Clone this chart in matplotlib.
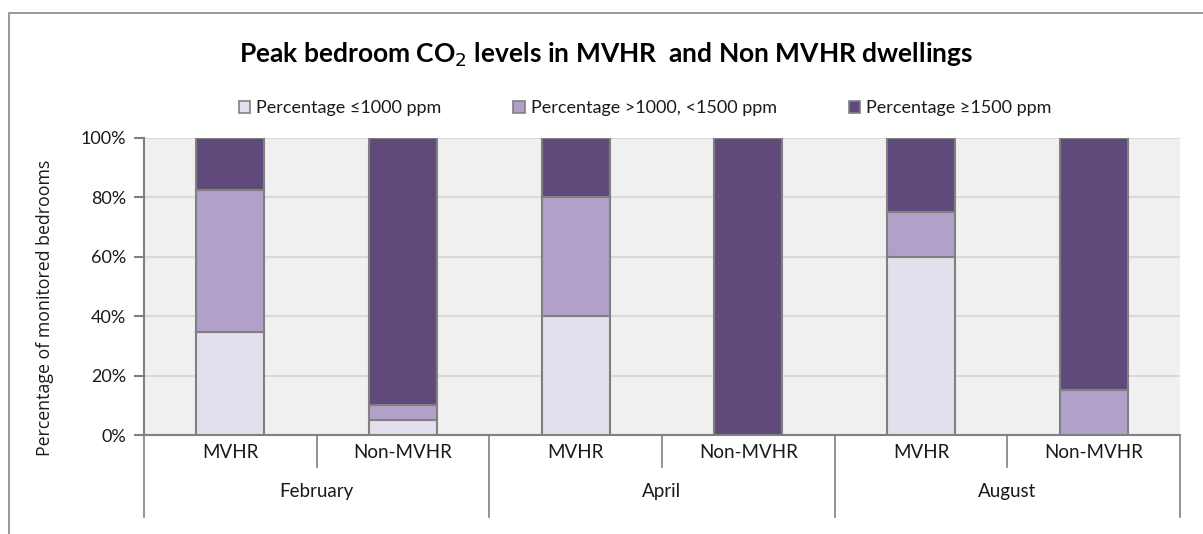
import matplotlib
matplotlib.use("Agg")
import matplotlib.pyplot as plt
from matplotlib.patches import Rectangle, Patch
from matplotlib.transforms import blended_transform_factory

# ---- data ----
months = ["February", "April", "August"]
groups = ["MVHR", "Non-MVHR"]
series_names = ["Percentage \u22641000 ppm", "Percentage >1000, <1500 ppm", "Percentage \u22651500 ppm"]
low = [34.8, 5, 40, 0, 60, 0]
mid = [47.8, 5, 40, 0, 15, 15]
high = [17.4, 90, 20, 100, 25, 85]
yticks = [0, 20, 40, 60, 80, 100]

colors = ["#E4DFEC", "#B1A0C7", "#604A7B"]
edge = "#808080"
FONT = ["Lato", "DejaVu Sans"]
TXT = "#1a1a1a"

W, H = 1203, 534
fig = plt.figure(figsize=(W / 100, H / 100), dpi=100)
fig.patch.set_facecolor("white")

# outer chart border
fig.patches.append(Rectangle((9 / W, -0.1), 1.2, 1 - 13 / H + 0.1, transform=fig.transFigure,
                             fill=False, edgecolor="#868686", linewidth=1.2))

left, right, top, bottom = 144, 1180, 138, 435
ax = fig.add_axes([left / W, 1 - bottom / H, (right - left) / W, (bottom - top) / H])
ax.set_facecolor("#F0F0F0")

n = len(low)
x = [i + 0.5 for i in range(n)]
bw = 0.395
bottoms2 = low
bottoms3 = [a + b for a, b in zip(low, mid)]
for vals, bots, c in [(low, [0] * n, colors[0]), (mid, bottoms2, colors[1]), (high, bottoms3, colors[2])]:
    ax.bar(x, vals, bw, bottom=bots, color=c, edgecolor=edge, linewidth=1.5, zorder=3)

ax.set_xlim(0, n)
ax.set_ylim(0, 100)
ax.set_yticks(yticks)
ax.set_yticklabels([f"{v}%" for v in yticks], family=FONT, fontsize=13, color=TXT)
ax.yaxis.grid(True, color="#D9D9D9", linewidth=1.5, zorder=0)
ax.set_xticks([])
for s in ["top", "right"]:
    ax.spines[s].set_visible(False)
for s in ["left", "bottom"]:
    ax.spines[s].set_color(edge)
    ax.spines[s].set_linewidth(1.5)
ax.tick_params(axis="y", length=7, color=edge, width=1.5, pad=6)

# categorical multi-level axis
tr = blended_transform_factory(ax.transData, ax.transAxes)
axh = (bottom - top)
inner_len = (467 - bottom) / axh
outer_len = (517 - bottom) / axh
for i in range(n + 1):
    ln = outer_len if i % 2 == 0 else inner_len
    ax.plot([i, i], [0, -ln], transform=tr, color=edge, linewidth=1.2, clip_on=False)
for i in range(n):
    ax.text(i + 0.5, -(452 - bottom) / axh, groups[i % 2], transform=tr, ha="center", va="center",
            family=FONT, fontsize=13.5, color=TXT)
for j, m in enumerate(months):
    ax.text(2 * j + 1, -(492 - bottom) / axh, m, transform=tr, ha="center", va="center",
            family=FONT, fontsize=13.5, color=TXT)

fig.text(45 / W, 1 - 308 / H, "Percentage of monitored bedrooms", rotation=90, ha="center", va="center",
         family=["Open Sans", "DejaVu Sans"], fontsize=12.8, color=TXT)

fig.text(606 / W, 1 - 55 / H, "Peak bedroom CO$_2$ levels in MVHR  and Non MVHR dwellings",
         ha="center", va="center", family=FONT, fontsize=19, fontweight="bold", color="black")

handles = [Patch(facecolor=c, edgecolor=edge, linewidth=1.2) for c in colors]
leg = fig.legend(handles, series_names, loc="center", bbox_to_anchor=(645 / W, 1 - 108 / H), ncol=3,
                 frameon=False, prop={"family": FONT, "size": 13}, handlelength=0.65, handleheight=0.65,
                 handletextpad=0.3, columnspacing=4.0)
for t in leg.get_texts():
    t.set_color(TXT)

fig.savefig("out.png", dpi=100)
